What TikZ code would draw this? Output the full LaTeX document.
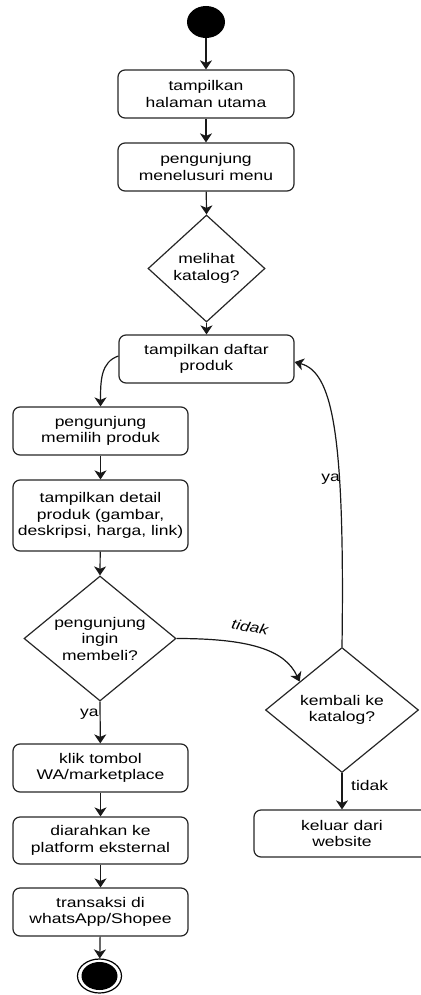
\documentclass[tikz,border=0pt]{standalone}
\usepackage{fontspec}
\setmainfont{Liberation Sans}[FakeStretch=1.25]
\usetikzlibrary{arrows.meta,shapes.geometric,calc}

\tikzset{
  act/.style={draw=black!85, line width=1.2pt, rounded corners=7pt, minimum width=176pt,
    minimum height=48pt, align=center, inner sep=2pt,
    font=\fontsize{14pt}{16.5pt}\selectfont},
  dia/.style={draw=black!85, line width=1.2pt, shape=diamond, inner sep=0pt},
  dtext/.style={align=center, inner sep=0pt, font=\fontsize{14pt}{16.5pt}\selectfont},
  lbl/.style={inner sep=1pt, font=\fontsize{14pt}{16.5pt}\selectfont},
  flow/.style={draw=black!90, line width=1.2pt,
    -{Stealth[length=9pt,width=12pt,inset=2.5pt]}},
}

\begin{document}
\begin{tikzpicture}[x=1pt, y=-1pt]
\path[use as bounding box] (0,0) rectangle (420,995);

% start and end states
\node[ellipse, fill=black, minimum width=38pt, minimum height=32pt, inner sep=0pt] (start) at (206,22) {};
\node[ellipse, draw=black, line width=1.2pt, minimum width=44pt, minimum height=34pt, inner sep=0pt] (stop) at (99.5,976) {};
\node[ellipse, fill=black, minimum width=36pt, minimum height=28pt, inner sep=0pt] (stopin) at (stop) {};

% activities
\node[act] (b1) at (206,94) {tampilkan\\halaman utama};
\node[act] (b2) at (206,167) {pengunjung\\menelusuri menu};
\node[act, minimum width=175pt] (b3) at (206.5,359) {tampilkan daftar\\produk};
\node[act, minimum width=175pt] (b4) at (100.5,431) {pengunjung\\memilih produk};
\node[act, minimum width=175pt, minimum height=71pt] (b5) at (100.5,515.5) {tampilkan detail\\produk (gambar,\\deskripsi, harga, link)};
\node[act, minimum width=175pt] (b6) at (100.5,768) {klik tombol\\WA/marketplace};
\node[act, minimum width=175pt, minimum height=47pt] (b7) at (100.5,840.5) {diarahkan ke\\platform eksternal};
\node[act, minimum width=175pt] (b8) at (100.5,912) {transaksi di\\whatsApp/Shopee};
\node[act, minimum height=47pt] (b9) at (342,833.5) {keluar dari\\website};

% decisions
\node[dia, minimum width=117pt, minimum height=107pt] (d1) at (206.5,268.5) {};
\node[dtext] (d1t) at (d1) {melihat\\katalog?};
\node[dia, minimum width=152pt, minimum height=125pt] (d2) at (100,638.5) {};
\node[dtext] (d2t) at (d2) {pengunjung\\ingin\\membeli?};
\node[dia, minimum width=153pt, minimum height=125pt] (d3) at (342,710) {};
\node[dtext] (d3t) at (d3) {kembali ke\\katalog?};

% main flow
\draw[flow] (start) -- (b1);
\draw[flow] (b1) -- (b2);
\draw[flow] (b2) -- (d1.north);
\draw[flow] (d1.south) -- (b3);
\draw[flow] (b3.west |- 0,356) .. controls (101,362) and (100.5,380) .. (b4.north);
\draw[flow] (b4) -- (b5);
\draw[flow] (b5) -- (d2.north);
\draw[flow] (d2.south) -- (b6) node[lbl, pos=0.3, anchor=east] (lya) {ya};
\draw[flow] (b6) -- (b7);
\draw[flow] (b7) -- (b8);
\draw[flow] (b8) -- (stop);

% branch to the return decision
\coordinate (d3in) at ($(d3.north)!0.55!(d3.west)$);
\draw[flow] (d2.east) .. controls (250,638.5) and (285,650) .. (d3in);
\node[lbl, rotate=-11, font=\fontsize{14pt}{16.5pt}\selectfont\itshape] (ltidak) at (250,627) {tidak};
\draw[flow] (d3.north) .. controls (345,430) and (332,372) .. (b3.east |- 0,362);
\node[lbl, anchor=east] (lya2) at (341,479) {ya};
\draw[flow] (d3.south) -- (b9);
\node[lbl, anchor=west] (ltidak2) at (350,785) {tidak};
\end{tikzpicture}
\end{document}
